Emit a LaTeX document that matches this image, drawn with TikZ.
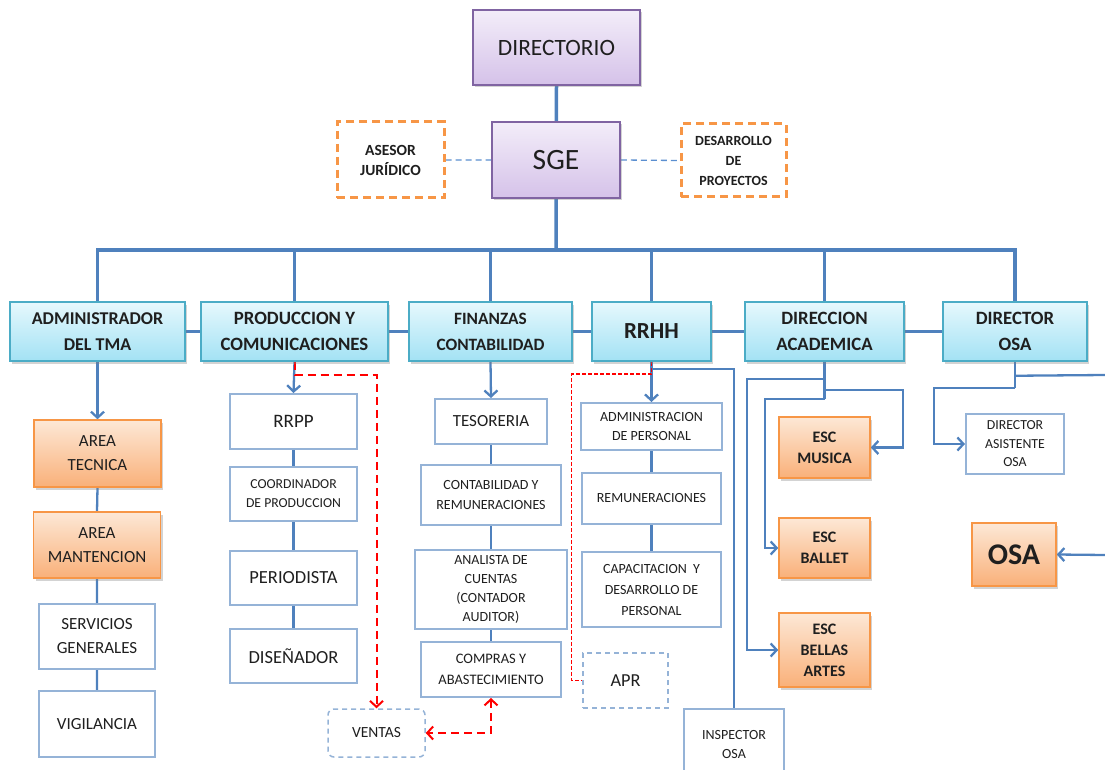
\documentclass[tikz,border=0pt]{standalone}
\usepackage{fontspec}
\setmainfont{Carlito}
\usetikzlibrary{arrows.meta,shadows,calc}
\definecolor{lineB}{HTML}{4F81BD}
\definecolor{cyanB}{HTML}{4BACC6}
\definecolor{cyanT}{HTML}{E6F8FD}
\definecolor{cyanD}{HTML}{A3E2F4}
\definecolor{purB}{HTML}{8064A2}
\definecolor{purT}{HTML}{F3EDF9}
\definecolor{purD}{HTML}{D5C2E9}
\definecolor{oraB}{HTML}{F79646}
\definecolor{oraT}{HTML}{FDE8D6}
\definecolor{oraD}{HTML}{F9B079}
\definecolor{wB}{HTML}{95B3D7}
\definecolor{dashB}{HTML}{5B8FD0}
\definecolor{txt}{HTML}{1F1F1F}
\pgfdeclarelayer{bg}\pgfsetlayers{bg,main}
\tikzset{
  box/.style={draw, align=center, inner sep=1pt, text=txt},
  shad/.style={drop shadow={opacity=0.35,shadow xshift=2pt,shadow yshift=-2.5pt}},
  cyanbox/.style={box, shad, draw=cyanB, line width=1.5pt, top color=cyanT, bottom color=cyanD},
  lv/.style={font=\bfseries\fontsize{#1}{26}\selectfont},
  purbox/.style={box, shad, draw=purB, line width=1.5pt, top color=purT, bottom color=purD},
  orabox/.style={box, shad, draw=oraB, line width=1.5pt, top color=oraT, bottom color=oraD},
  whbox/.style={box, draw=wB, line width=2pt, fill=white},
  dashbox/.style={box, draw=wB, line width=1.5pt, dash pattern=on 5pt off 4pt, fill=white},
  odash/.style={box, draw=oraB, line width=3pt, dash pattern=on 8pt off 5pt, fill=white},
  bus/.style={draw=lineB, line width=3.5pt},
  conn/.style={draw=lineB, line width=2.3pt},
  thinc/.style={draw=lineB, line width=1.5pt},
  reddash/.style={draw=red, line width=2pt, dash pattern=on 8pt off 5pt},
  reddot/.style={draw=red, line width=1.8pt, dash pattern=on 4pt off 2pt},
  bluedash/.style={draw=dashB, line width=1.3pt, dash pattern=on 6pt off 4pt},
  >={Straight Barb[length=6pt,width=13pt]},
  sz/.style 2 args={minimum width=#1pt, minimum height=#2pt},
  f/.style={font=\fontsize{#1}{24}\selectfont},
  fb/.style={font=\bfseries\fontsize{#1}{21}\selectfont},
}
\begin{document}
\begin{tikzpicture}[x=1pt,y=-1pt]
\useasboundingbox (0,0) rectangle (1105,770);
% top
\node[purbox, sz={167}{75}, font=\fontsize{23.4}{26}\selectfont] (dir) at (556.5,47.5) {DIRECTORIO};
\node[purbox, sz={128}{76}, font=\fontsize{29.5}{34}\selectfont] (sge) at (556,160) {SGE};
\node[odash, sz={107}{76}, font=\bfseries\fontsize{15.5}{20}\selectfont] (ase) at (390.5,160) {ASESOR\\JURÍDICO};
\node[odash, sz={105}{73}, font=\bfseries\fontsize{14}{20}\selectfont] (des) at (733.5,160.5) {DESARROLLO\\DE\\PROYECTOS};
% level 2
\node[cyanbox, lv=18, sz={175}{59}] (adm) at (97.5,331.5) {ADMINISTRADOR\\DEL TMA};
\node[cyanbox, lv=18.8, sz={187}{59}] (prod) at (294.5,331.5) {PRODUCCION Y\\COMUNICACIONES};
\node[cyanbox, lv=17.3, sz={163}{59}] (fin) at (490.5,331.5) {FINANZAS\\CONTABILIDAD};
\node[cyanbox, sz={119}{59}, font=\bfseries\fontsize{23}{28}\selectfont] (rrhh) at (651.5,331.5) {RRHH};
\node[cyanbox, lv=18.8, sz={159}{59}] (dac) at (824.5,331.5) {DIRECCION\\ACADEMICA};
\node[cyanbox, lv=18.8, sz={144}{59}] (dosa) at (1015,331.5) {DIRECTOR\\OSA};
% admin column
\node[orabox, sz={127}{67}, f=17] (atec) at (97.5,453.5) {AREA\\TECNICA};
\node[orabox, sz={127}{66}, f=17] (aman) at (97,545) {AREA\\MANTENCION};
\node[whbox, sz={116}{65}, f=17] (serv) at (97,636.5) {SERVICIOS\\GENERALES};
\node[whbox, sz={116}{66}, f=17] (vig) at (97,724) {VIGILANCIA};
% produccion column
\node[whbox, sz={127}{55}, f=19] (rrpp) at (293.5,421.5) {RRPP};
\node[whbox, sz={127}{54}, font=\fontsize{13.7}{19}\selectfont] (coord) at (293.5,494) {COORDINADOR\\DE PRODUCCION};
\node[whbox, sz={127}{54}, f=18.5] (per) at (293.5,578) {PERIODISTA};
\node[whbox, sz={127}{54}, f=18.5] (dis) at (293.5,656) {DISEÑADOR};
\node[dashbox, rounded corners=6pt, sz={97}{48}, f=15.5] (ven) at (376.5,733) {VENTAS};
% finanzas column
\node[whbox, sz={112}{45}, f=17] (tes) at (491,421.5) {TESORERIA};
\node[whbox, sz={140}{60}, font=\fontsize{14}{20}\selectfont] (cont) at (491,495) {CONTABILIDAD Y\\REMUNERACIONES};
\node[whbox, sz={152}{79}, font=\fontsize{14}{19}\selectfont] (anal) at (491,589.5) {ANALISTA DE\\CUENTAS\\(CONTADOR\\AUDITOR)};
\node[whbox, sz={140}{55}, font=\fontsize{14.5}{21}\selectfont] (comp) at (491,669.5) {COMPRAS Y\\ABASTECIMIENTO};
% rrhh column
\node[whbox, sz={141}{47}, font=\fontsize{14}{19}\selectfont] (adp) at (651.5,426.5) {ADMINISTRACION\\DE PERSONAL};
\node[whbox, sz={139}{51}, font=\fontsize{14}{19}\selectfont] (rem) at (651.5,498.5) {REMUNERACIONES};
\node[whbox, sz={139}{75}, font=\fontsize{14}{21}\selectfont] (cap) at (651.5,589.5) {CAPACITACION~ Y\\DESARROLLO DE\\PERSONAL};
\node[dashbox, sz={85}{55}, f=18.3] (apr) at (625.5,680.5) {APR};
\node[whbox, sz={100}{70}, font=\fontsize{14}{19}\selectfont] (insp) at (734,744) {INSPECTOR\\OSA};
% academica column
\node[orabox, sz={91}{61}, fb=16] (mus) at (824.5,447.5) {ESC\\MUSICA};
\node[orabox, sz={91}{60}, fb=16] (bal) at (824.5,548) {ESC\\BALLET};
\node[orabox, sz={91}{74}, fb=16] (bel) at (824.5,650) {ESC\\BELLAS\\ARTES};
% osa column
\node[whbox, sz={98}{60}, font=\fontsize{13.8}{18.5}\selectfont] (das) at (1015,444) {DIRECTOR\\ASISTENTE\\OSA};
\node[orabox, sz={84}{63}, font=\bfseries\fontsize{30}{34}\selectfont] (osa) at (1014,554.5) {OSA};
\coordinate (bus) at (556,250);
\coordinate (re1) at (1105,375);
\coordinate (re2) at (1105,555);
\begin{pgfonlayer}{bg}
\draw[bus] (dir.south) -- (sge.south) -- (bus);
\draw[bus] (adm.north) |- (bus) -| (dosa.north);
\foreach \n in {prod,fin,rrhh,dac} \draw[bus] (\n.north) -- (\n.north |- bus);
\draw[bus] (adm.east) -- (prod.west) (prod.east) -- (fin.west) (fin.east) -- (rrhh.west)
  (rrhh.east) -- (dac.west) (dac.east) -- (dosa.west);
\draw[bluedash] (ase.east) -- (sge.west) (sge.east) -- (des.west);
% admin
\draw[conn,->] (adm.south) -- (atec.north);
\draw[conn] (atec.south) -- (aman.north) (aman.south) -- (serv.north) (serv.south) -- (vig.north);
% prod
\draw[conn,->] (prod.south) -- (rrpp.north);
\draw[conn] (rrpp.south) -- (coord.north) (coord.south) -- (per.north) (per.south) -- (dis.north);
\draw[reddash,->] (prod.south) -- ++(0,13) -| (ven.north);
% fin
\draw[conn,->] (fin.south) -- (tes.north);
\draw[conn] (tes.south) -- (cont.north) (cont.south) -- (anal.north) (anal.south) -- (comp.north);
\draw[reddash,<->] (comp.south) |- (ven.east);
% rrhh
\draw[conn,->] (rrhh.south) -- (adp.north);
\draw[conn] (adp.south) -- (rem.north) (rem.south) -- (cap.north);
\draw[reddot] (rrhh.south) -- ++(0,12) -- ++(-80,0) |- (apr.west);
\draw[thinc] (rrhh.south) ++(0,7) -| (insp.north);
% academica
\draw[conn] (dac.south) -- ++(0,37);
\draw[conn,->] ([yshift=-17pt]dac.south) -| ([xshift=-31pt]bel.west) -- (bel.west);
\draw[conn,->] ([yshift=-28pt]dac.south) -| ([xshift=32pt]mus.east) -- (mus.east);
\draw[conn,->] ([yshift=-37pt]dac.south) -| ([xshift=-13pt]bal.west) -- (bal.west);
% osa
\draw[conn] (dosa.south) -- ++(0,26);
\draw[conn,->] ([yshift=-26pt]dosa.south) -| ([xshift=-31pt]das.west) -- (das.west);
\draw[conn] ([yshift=-14pt]dosa.south) -- (re1);
\draw[conn,->] (re2) -- (osa.east);
\end{pgfonlayer}
\end{tikzpicture}
\end{document}
